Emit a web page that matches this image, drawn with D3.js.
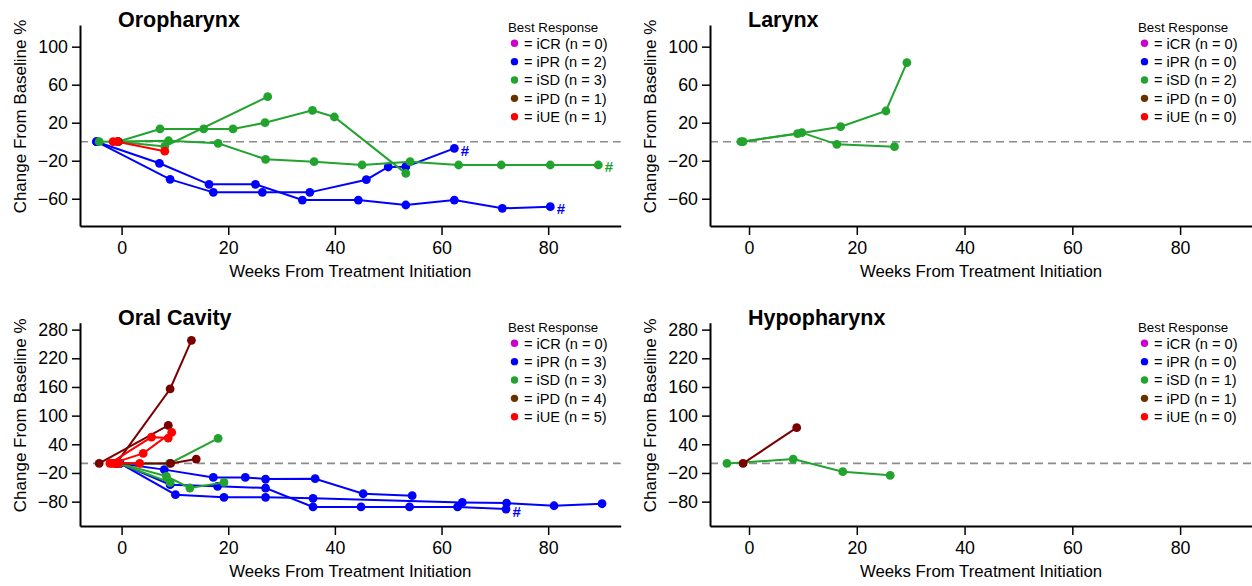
<!DOCTYPE html>
<html>
<head>
<meta charset="utf-8">
<title>Change from baseline by tumour site</title>
<script src="https://d3js.org/d3.v7.min.js"></script>
<style>
  body { margin: 0; background: #fff; }
  svg text { font-family: "Liberation Sans", Arial, sans-serif; fill: #000; }
</style>
</head>
<body>
<svg width="1252" height="586"></svg>
<script>
// ---- data ----
var responses = ["iCR", "iPR", "iSD", "iPD", "iUE"];
var xTicks = [0, 20, 40, 60, 80];
var yTicksTop = [-60, -20, 20, 60, 100];
var yTicksBottom = [-80, -20, 40, 100, 160, 220, 280];

// legend counts per site (same order as responses)
var oroCounts = [0, 2, 3, 1, 1];
var larCounts = [0, 0, 2, 0, 0];
var oralCounts = [0, 3, 3, 4, 5];
var hypoCounts = [0, 0, 1, 1, 0];

// patients: response, [week, % change] pairs, "#" flag
var oroPatients = [
  {resp: "iPR", pts: [[-4.7, 0], [9.1, -39.6], [17.2, -53.3], [26.4, -53.3], [35.3, -53.3], [45.9, -40], [50, -26.6], [53.3, -26.3], [62.4, -7]], hash: true},
  {resp: "iPR", pts: [[-4.7, 0], [7.1, -22.7], [16.4, -44.9], [25.1, -44.9], [33.9, -61.4], [44.4, -61.4], [53.3, -66.6], [62.4, -61.4], [71.4, -70.1], [80.4, -68.4]], hash: true},
  {resp: "iSD", pts: [[-0.7, 0], [7.2, 13.4], [15.4, 13.4], [20.9, 13.4], [26.9, 20], [35.8, 33], [39.9, 26], [53.3, -33.3]]},
  {resp: "iSD", pts: [[-4.2, 0], [8.8, 1], [18.1, -1.7], [27, -18.5], [36.1, -21], [45.1, -24.5], [54.1, -21], [63.2, -24.5], [71.2, -24.5], [80.4, -24.5], [89.4, -24.5]], hash: true},
  {resp: "iSD", pts: [[-0.7, 0], [8.1, -5], [27.4, 47.4]]},
  {resp: "iPD", pts: [[-0.6, 0]]},
  {resp: "iUE", pts: [[-1.6, 0], [-0.8, 0], [8.1, -10]]}
];

var larPatients = [
  {resp: "iSD", pts: [[-1.5, 0], [9.0, 8.4], [17.0, 15.8], [25.4, 32.3], [29.3, 83.2]]},
  {resp: "iSD", pts: [[-1.1, 0], [9.8, 9.5], [16.3, -2.8], [27.0, -5.2]]}
];

var oralPatients = [
  {resp: "iPR", pts: [[-0.3, 0], [8.0, -13], [17.2, -29.3], [23.2, -29.3], [27, -32.7], [36.3, -32], [45.3, -63.5], [54.5, -67.6]]},
  {resp: "iPR", pts: [[-0.3, 0], [9.1, -44.6], [18, -48], [27, -51.5], [35.9, -91], [44.9, -91], [54, -91], [63, -91], [72.1, -95.5]], hash: true},
  {resp: "iPR", pts: [[-0.3, 0], [10.1, -65.5], [19.2, -71], [27, -71], [35.9, -73], [63.9, -81.6], [72.2, -83], [81.1, -88.6], [90.1, -84.4]]},
  {resp: "iSD", pts: [[-0.5, 0], [9, 0], [18.1, 52.5]]},
  {resp: "iSD", pts: [[-0.5, 0], [8.4, -27], [12.8, -51.5], [19.2, -39.7]]},
  {resp: "iSD", pts: [[-0.5, 0], [9.1, -40]]},
  {resp: "iPD", pts: [[-4.2, 0], [8.75, 79.6]]},
  {resp: "iPD", pts: [[-1, 0], [9.1, 155.8], [13.1, 257.6]]},
  {resp: "iPD", pts: [[-1, 0], [9.2, 0], [14, 9]]},
  {resp: "iPD", pts: [[-0.8, 0]]},
  {resp: "iUE", pts: [[-2.2, 0], [5.6, 55], [8.75, 53]]},
  {resp: "iUE", pts: [[-1.8, 0], [4.05, 21], [9.4, 65]]},
  {resp: "iUE", pts: [[-1.4, 0], [3.4, 0]]},
  {resp: "iUE", pts: [[-1, 0]]},
  {resp: "iUE", pts: [[-0.6, 0]]}
];

var hypoPatients = [
  {resp: "iSD", pts: [[-4.1, 0], [8.2, 9], [17.4, -17.4], [26.2, -25]]},
  {resp: "iPD", pts: [[-1.1, 0], [8.85, 74.8]]}
];

// ---- styling / layout ----
var lineColor = {iCR: "#cc00cc", iPR: "#0000ff", iSD: "#22a32e", iPD: "#7a0000", iUE: "#ff0000"};
var legendColor = {iCR: "#cc00cc", iPR: "#0000ff", iSD: "#22a32e", iPD: "#663300", iUE: "#ff0000"};

var cols = [
  {left: 80, right: 620.7, dom: [-7.8, 93.6]},
  {left: 710, right: 1253.4, dom: [-7.24, 93.6]}
];
var rows = [
  {off: 0, top: 25, bottom: 226, dom: [-88.7, 122.8], ticks: yTicksTop},
  {off: 300, top: 322.7, bottom: 526, dom: [-131, 294.5], ticks: yTicksBottom}
];

var panels = [
  {title: "Oropharynx", patients: oroPatients, counts: oroCounts, c: 0, r: 0},
  {title: "Larynx", patients: larPatients, counts: larCounts, c: 1, r: 0},
  {title: "Oral Cavity", patients: oralPatients, counts: oralCounts, c: 0, r: 1},
  {title: "Hypopharynx", patients: hypoPatients, counts: hypoCounts, c: 1, r: 1}
];

var svg = d3.select("svg");

panels.forEach(function(p) {
  var col = cols[p.c], row = rows[p.r];
  var x = d3.scaleLinear().domain(col.dom).range([col.left, col.right]);
  var y = d3.scaleLinear().domain(row.dom).range([row.bottom, row.top]);
  var g = svg.append("g");

  // dashed zero line
  g.append("line")
    .attr("x1", col.left).attr("x2", col.right)
    .attr("y1", y(0)).attr("y2", y(0))
    .attr("stroke", "#8c8c8c").attr("stroke-width", 1.6)
    .attr("stroke-dasharray", "8,5");

  // axes
  var xa = g.append("g")
    .attr("transform", "translate(0," + row.bottom + ")")
    .call(d3.axisBottom(x).tickValues(xTicks).tickSize(9).tickSizeOuter(0).tickPadding(6));
  var ya = g.append("g")
    .attr("transform", "translate(" + col.left + ",0)")
    .call(d3.axisLeft(y).tickValues(row.ticks).tickSize(8).tickSizeOuter(0).tickPadding(4));
  [xa, ya].forEach(function(a) {
    a.select(".domain").attr("stroke", "#000").attr("stroke-width", 2);
    a.selectAll(".tick line").attr("stroke", "#000").attr("stroke-width", 1.5);
    a.selectAll(".tick text").attr("font-size", 17.8).attr("fill", "#000")
      .attr("font-family", "'Liberation Sans', Arial, sans-serif");
  });

  // axis titles
  g.append("text")
    .attr("x", (col.left + Math.min(col.right, 1252)) / 2)
    .attr("y", row.off + 277)
    .attr("text-anchor", "middle").attr("font-size", 16.8)
    .text("Weeks From Treatment Initiation");
  g.append("text")
    .attr("transform", "translate(" + (col.left - 54) + "," + ((row.top + row.bottom) / 2 - 9) + ") rotate(-90)")
    .attr("text-anchor", "middle").attr("font-size", 17)
    .text("Change From Baseline %");

  // panel title
  g.append("text")
    .attr("x", col.left + 38).attr("y", row.top + 2)
    .attr("font-size", 21.5).attr("font-weight", "bold")
    .text(p.title);

  // patient lines and points
  var line = d3.line().x(function(d) { return x(d[0]); }).y(function(d) { return y(d[1]); });
  p.patients.forEach(function(s) {
    var color = lineColor[s.resp];
    g.append("path").datum(s.pts)
      .attr("d", line).attr("fill", "none")
      .attr("stroke", color).attr("stroke-width", 2);
    g.selectAll(null).data(s.pts).enter().append("circle")
      .attr("cx", function(d) { return x(d[0]); })
      .attr("cy", function(d) { return y(d[1]); })
      .attr("r", 4.4).attr("fill", color);
    if (s.hash) {
      var last = s.pts[s.pts.length - 1];
      g.append("text")
        .attr("x", x(last[0]) + 6.5).attr("y", y(last[1]) + 7.5)
        .attr("font-size", 15).attr("font-weight", "bold")
        .style("fill", color).text("#");
    }
  });

  // legend
  var lx = col.left + 434.5;
  var leg = g.append("g");
  leg.append("text")
    .attr("x", lx - 6.5).attr("y", row.off + 31.7)
    .attr("font-size", 13.3).text("Best Response");
  responses.forEach(function(r, i) {
    var ly = row.off + 43.3 + i * 18.35;
    leg.append("circle").attr("cx", lx).attr("cy", ly).attr("r", 3.7).attr("fill", legendColor[r]);
    leg.append("text")
      .attr("x", lx + 9.5).attr("y", ly + 5.2)
      .attr("font-size", 14.6)
      .text("= " + r + " (n = " + p.counts[i] + ")");
  });
});
</script>
</body>
</html>
